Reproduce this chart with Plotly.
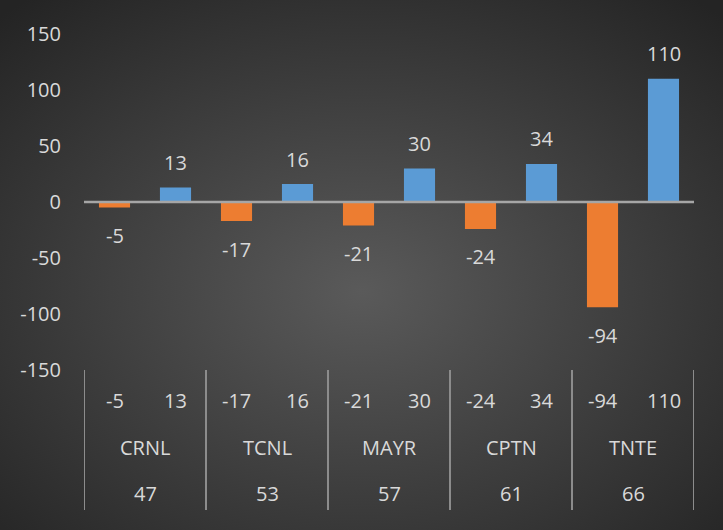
import base64
import plotly.graph_objects as go

# Chart data
names = ["CRNL", "TCNL", "MAYR", "CPTN", "TNTE"]
codes = ["47", "53", "57", "61", "66"]
neg_vals = [-5, -17, -21, -24, -94]
pos_vals = [13, 16, 30, 34, 110]
y_ticks = [-150, -100, -50, 0, 50, 100, 150]
y_tick_text = ["-150", "-100", "-50", "0", "50", "100", "150"]

ORANGE = "#ED7D31"
BLUE = "#5B9BD5"
TEXT = "#D9D9D9"
FONT = "Open Sans"

W, H = 723, 530
M_L, M_R, M_T, M_B = 84, 29, 34, 160
PW, PH = W - M_L - M_R, H - M_T - M_B

idx = list(range(len(names)))

fig = go.Figure()
fig.add_trace(go.Bar(x=idx, y=neg_vals, marker=dict(color=ORANGE, line=dict(width=0)),
                     hoverinfo="skip"))
fig.add_trace(go.Bar(x=idx, y=pos_vals, marker=dict(color=BLUE, line=dict(width=0)),
                     hoverinfo="skip"))

annotations = []
shapes = []
OFF = 0.25
for i in idx:
    # value labels next to the bars
    annotations.append(dict(x=i - OFF, y=neg_vals[i], xref="x", yref="y", text=str(neg_vals[i]),
                            showarrow=False, yanchor="middle", yshift=-28,
                            font=dict(family=FONT, size=20, color=TEXT)))
    annotations.append(dict(x=i + OFF, y=pos_vals[i], xref="x", yref="y", text=str(pos_vals[i]),
                            showarrow=False, yanchor="middle", yshift=25,
                            font=dict(family=FONT, size=20, color=TEXT)))
    # multi-level category axis rows
    for xv, txt in ((i - OFF, str(neg_vals[i])), (i + OFF, str(pos_vals[i]))):
        annotations.append(dict(x=xv, y=-31 / PH, xref="x", yref="paper", text=txt,
                                showarrow=False, yanchor="middle",
                                font=dict(family=FONT, size=20, color=TEXT)))
    annotations.append(dict(x=i, y=-77 / PH, xref="x", yref="paper", text=names[i],
                            showarrow=False, yanchor="middle",
                            font=dict(family=FONT, size=20, color=TEXT)))
    annotations.append(dict(x=i, y=-123 / PH, xref="x", yref="paper", text=codes[i],
                            showarrow=False, yanchor="middle",
                            font=dict(family=FONT, size=20, color=TEXT)))

# group dividers below the plot
for k in range(len(names) + 1):
    shapes.append(dict(type="line", xref="x", yref="paper", x0=k - 0.5, x1=k - 0.5,
                       y0=0, y1=-140 / PH, line=dict(color="#8C8C8C", width=2)))

# horizontal axis line at zero, drawn over the bars
shapes.append(dict(type="line", xref="x", yref="y", x0=-0.5, x1=len(names) - 0.5, y0=0, y1=0,
                   line=dict(color="#A6A6A6", width=2.5), layer="above"))

# radial background
svg = (
    f'<svg xmlns="http://www.w3.org/2000/svg" width="{W}" height="{H}" preserveAspectRatio="none">'
    '<defs><radialGradient id="g" cx="50%" cy="55%" r="72%">'
    '<stop offset="0%" stop-color="#5A5A5A"/>'
    '<stop offset="100%" stop-color="#242424"/>'
    '</radialGradient></defs>'
    f'<rect width="{W}" height="{H}" fill="url(#g)"/></svg>'
)
bg = "data:image/svg+xml;base64," + base64.b64encode(svg.encode()).decode()

fig.update_layout(
    width=W, height=H,
    margin=dict(l=M_L, r=M_R, t=M_T, b=M_B, pad=0),
    paper_bgcolor="#333333",
    plot_bgcolor="rgba(0,0,0,0)",
    barmode="group", bargap=0, bargroupgap=0.49,
    showlegend=False,
    font=dict(family=FONT, size=20, color=TEXT),
    annotations=annotations,
    shapes=shapes,
    images=[dict(source=bg, xref="paper", yref="paper",
                 x=-M_L / PW, y=1 + M_T / PH, sizex=W / PW, sizey=H / PH,
                 xanchor="left", yanchor="top", sizing="stretch", layer="below")],
    xaxis=dict(range=[-0.5, len(names) - 0.5], showticklabels=False, showgrid=False,
               zeroline=False, showline=False, ticks=""),
    yaxis=dict(range=[-150, 150], tickvals=y_ticks, ticktext=y_tick_text, showgrid=False,
               zeroline=False, showline=False, ticks="", ticklabelstandoff=22,
               tickfont=dict(family=FONT, size=20, color=TEXT)),
)

fig.write_html("out.html")
